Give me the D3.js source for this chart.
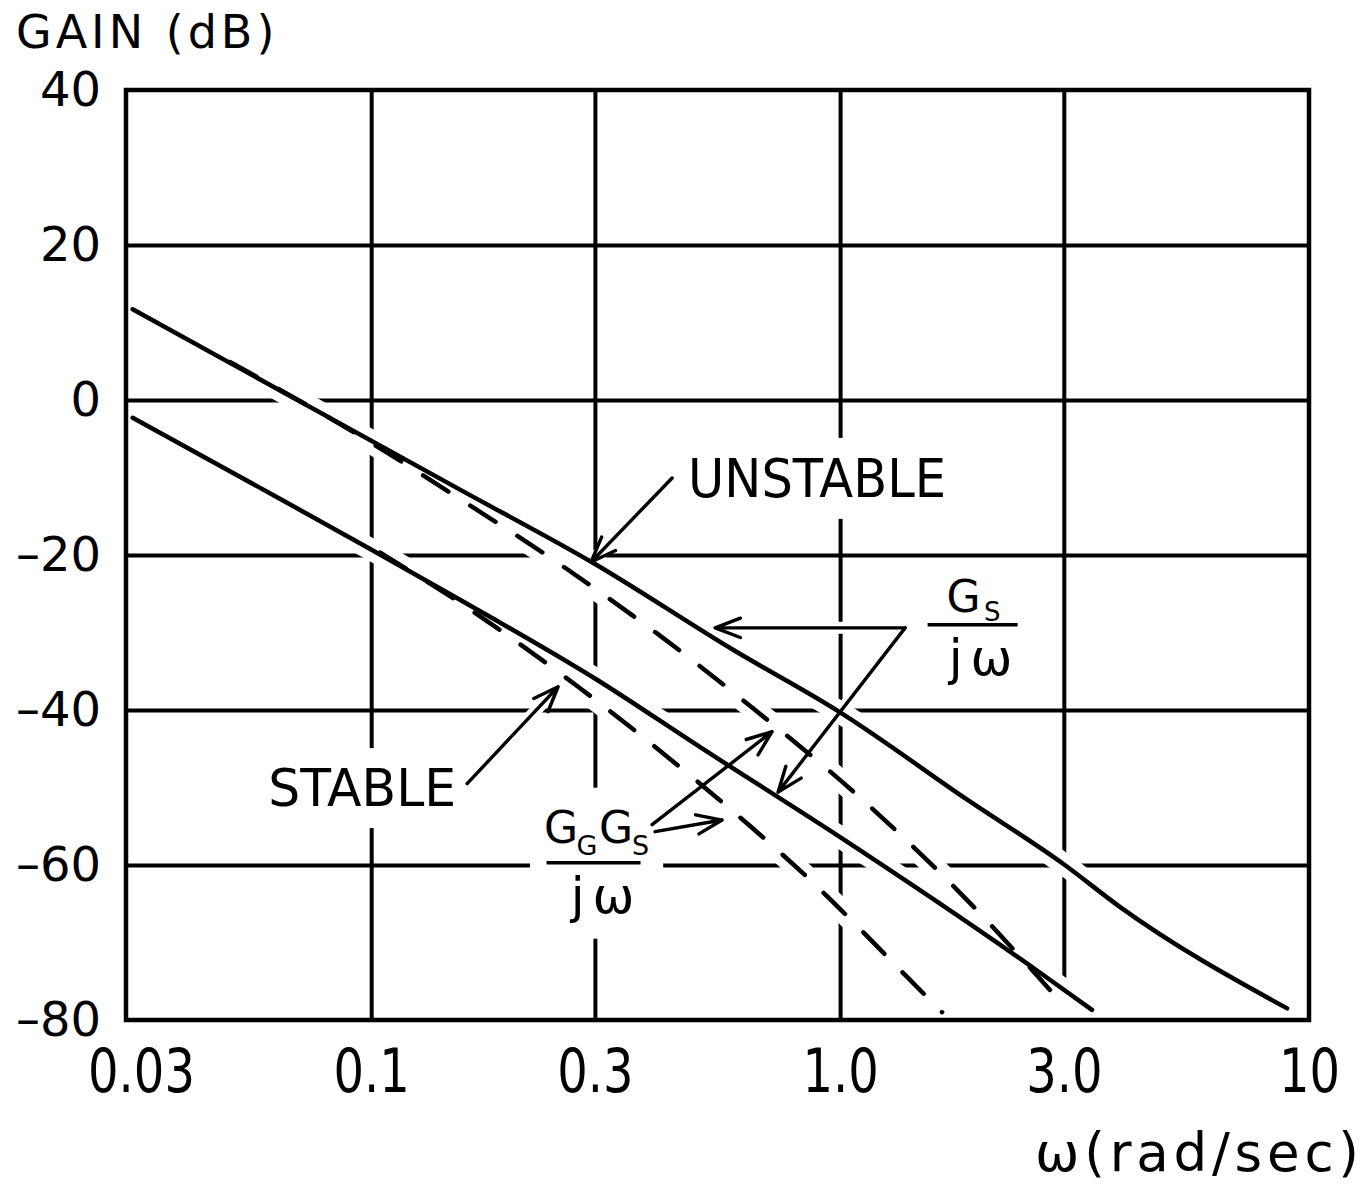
<!DOCTYPE html>
<html>
<head>
<meta charset="utf-8">
<script src="https://cdn.jsdelivr.net/npm/d3@7"></script>
<style>
  html, body { margin: 0; background: #fff; }
  svg { display: block; }
  text { font-family: "DejaVu Sans", sans-serif; fill: #000; }
</style>
</head>
<body>
<svg id="chart" width="1370" height="1187"></svg>
<script>
// ---- axis ticks --------------------------------------------------------
const freqTicks = [0.03, 0.1, 0.3, 1.0, 3.0, 10];
const freqTickLabels = ["0.03", "0.1", "0.3", "1.0", "3.0", "10"];
const freqGrid = [0.1, 0.3, 1.0, 3.0];
const gainTicks = [40, 20, 0, -20, -40, -60, -80];
const gainTickLabels = ["40", "20", "0", "–20", "–40", "–60", "–80"];
const gainGrid = [20, 0, -20, -40, -60];

// ---- gain curves: [omega (rad/sec), gain (dB)] ---------------------------
// solid: Gs / jw
const gsUnstable = [[0.031, 11.7], [0.155, -11.6], [0.297, -21.0], [0.59, -32.2],
  [1.0, -40.3], [1.87, -51.6], [3.0, -59.9], [3.95, -65.4], [8.98, -78.5]];
const gsStable = [[0.031, -2.3], [0.065, -13.0], [0.098, -19.0], [0.155, -25.8],
  [0.303, -36.1], [0.503, -44.8], [1.0, -56.4], [2.67, -73.9], [3.445, -78.7]];
// dashed: Gg Gs / jw
const ggGsUnstable = [[0.050, 4.9], [0.098, -5.2], [0.153, -12.6], [0.257, -21.5],
  [0.417, -30.6], [0.659, -40.0], [1.098, -51.2], [1.776, -63.2], [3.05, -78.6]];
const ggGsStable = [[0.1045, -19.7], [0.155, -26.2], [0.220, -32.6], [0.2735, -36.8],
  [0.357, -42.2], [0.456, -47.4], [0.563, -52.0], [0.702, -57.0], [0.876, -62.3],
  [1.092, -68.0], [1.356, -73.8], [1.65, -79.0]];

// ---- annotation anchors (data coordinates) -------------------------------
const wordLabels = [
  { text: "UNSTABLE", at: [0.474, -12.5] },
  { text: "STABLE",   at: [0.0603, -52.4] }
];
const gsLabelAt = [1.917, -29.0];     // centre of the fraction bar
const ggGsLabelAt = [0.298, -59.7];
const arrows = [
  { from: [0.4384, -10.06], to: [0.2944, -20.9] },
  { from: [0.1602, -49.5],  to: [0.2504, -37.0] },
  { from: [1.376, -29.4],   to: [0.5414, -29.4] },
  { from: [1.376, -29.4],   to: [0.7375, -50.6] },
  { from: [0.403, -55.7],   to: [0.5603, -54.2] },
  { from: [0.3973, -54.8],  to: [0.716, -42.8] }
];

// ---- layout ---------------------------------------------------------------
const W = 1370, H = 1187;
const margin = { left: 126, right: 61, top: 90, bottom: 167 };
const svg = d3.select("#chart");

const x = d3.scaleLog().domain([0.03, 10]).range([margin.left, W - margin.right]);
const y = d3.scaleLinear().domain([-80, 40]).range([H - margin.bottom, margin.top]);
const plotH = y(-80) - y(40);
const plotW = x(10) - x(0.03);

const gGrid = svg.append("g");
const gKnock = svg.append("g");
const gHalo = svg.append("g");
const gArrows = svg.append("g");
const gCurves = svg.append("g");
const gFrame = svg.append("g");
const gText = svg.append("g");

// grid lines
gGrid.append("g")
  .attr("transform", `translate(0,${y(-80)})`)
  .call(d3.axisBottom(x).tickValues(freqGrid).tickSize(-plotH).tickFormat(""))
  .call(g => g.select(".domain").remove())
  .selectAll("line").attr("stroke", "#000").attr("stroke-width", 4);
gGrid.append("g")
  .attr("transform", `translate(${x(0.03)},0)`)
  .call(d3.axisLeft(y).tickValues(gainGrid).tickSize(-plotW).tickFormat(""))
  .call(g => g.select(".domain").remove())
  .selectAll("line").attr("stroke", "#000").attr("stroke-width", 4);

// curves, each on a white band that breaks the grid where it crosses
const line = d3.line().x(d => x(d[0])).y(d => y(d[1])).curve(d3.curveMonotoneX);
const curves = [
  { data: gsUnstable, dash: null },
  { data: gsStable, dash: null },
  { data: ggGsUnstable, dash: "30,26" },
  { data: ggGsStable, dash: "30,26" }
];
gHalo.selectAll("path.halo").data(curves).join("path")
  .attr("class", "halo")
  .attr("d", d => line(d.data))
  .attr("fill", "none").attr("stroke", "#fff").attr("stroke-width", 22)
  .attr("stroke-linecap", "round");
gCurves.selectAll("path").data(curves).join("path")
  .attr("d", d => line(d.data))
  .attr("fill", "none").attr("stroke", "#000").attr("stroke-width", 4.5)
  .attr("stroke-linejoin", "round").attr("stroke-linecap", "round")
  .attr("stroke-dasharray", d => d.dash);

// arrows with open heads
function arrowPath(a) {
  const x0 = x(a.from[0]), y0 = y(a.from[1]);
  const x1 = x(a.to[0]), y1 = y(a.to[1]);
  const ang = Math.atan2(y0 - y1, x0 - x1);
  const L = 27, spread = 21 * Math.PI / 180;
  const b1 = [x1 + L * Math.cos(ang - spread), y1 + L * Math.sin(ang - spread)];
  const b2 = [x1 + L * Math.cos(ang + spread), y1 + L * Math.sin(ang + spread)];
  return `M${x0},${y0}L${x1},${y1}M${b1[0]},${b1[1]}L${x1},${y1}L${b2[0]},${b2[1]}`;
}
gHalo.selectAll("path.ahalo").data(arrows).join("path")
  .attr("class", "ahalo")
  .attr("d", a => `M${x(a.from[0])},${y(a.from[1])}L${x(a.to[0])},${y(a.to[1])}`)
  .attr("stroke", "#fff").attr("stroke-width", 12).attr("fill", "none");
gArrows.selectAll("path").data(arrows).join("path")
  .attr("d", arrowPath)
  .attr("fill", "none").attr("stroke", "#000").attr("stroke-width", 3.4)
  .attr("stroke-linecap", "round").attr("stroke-linejoin", "round");

// frame
gFrame.append("rect")
  .attr("x", x(0.03)).attr("y", y(40)).attr("width", plotW).attr("height", plotH)
  .attr("fill", "none").attr("stroke", "#000").attr("stroke-width", 4.5);

// tick labels
const xAxis = gText.append("g")
  .attr("transform", `translate(0,${y(-80)})`)
  .call(d3.axisBottom(x).tickValues(freqTicks).tickFormat((d, i) => freqTickLabels[i])
    .tickSize(0).tickPadding(29));
xAxis.select(".domain").remove();
xAxis.selectAll("text")
  .attr("font-family", "DejaVu Sans, sans-serif").attr("font-size", 60)
  .attr("fill", "#000").attr("transform", "scale(0.8,1)")
  .filter((d, i) => i === 0).attr("x", 15 / 0.8);

const yAxis = gText.append("g")
  .attr("transform", `translate(${x(0.03)},0)`)
  .call(d3.axisLeft(y).tickValues(gainTicks).tickFormat((d, i) => gainTickLabels[i])
    .tickSize(0).tickPadding(25));
yAxis.select(".domain").remove();
yAxis.selectAll("text")
  .attr("font-family", "DejaVu Sans, sans-serif").attr("font-size", 48).attr("fill", "#000");

// axis titles
gText.append("text").attr("x", 16).attr("y", 48)
  .attr("font-size", 46).attr("letter-spacing", 4).text("GAIN (dB)");
gText.append("text").attr("x", 1035).attr("y", 1171)
  .attr("font-size", 53).attr("textLength", 324).attr("lengthAdjust", "spacing")
  .text("ω(rad/sec)");

// knock a white box out of the grid behind a label group
function knockout(node, pad) {
  const b = node.getBBox();
  gKnock.append("rect")
    .attr("x", b.x - pad).attr("y", b.y - pad)
    .attr("width", b.width + 2 * pad).attr("height", b.height + 2 * pad)
    .attr("fill", "#fff");
}

// word labels
const wordSizes = { UNSTABLE: [53, 258], STABLE: [52, 188] };
wordLabels.forEach(l => {
  const [fs, len] = wordSizes[l.text];
  const t = gText.append("text")
    .attr("x", x(l.at[0])).attr("y", y(l.at[1]))
    .attr("font-size", fs)
    .attr("textLength", len).attr("lengthAdjust", "spacingAndGlyphs")
    .text(l.text);
  knockout(t.node(), 10);
});

// fraction labels
function fraction(at, halfBar, parts, denomDx, pad) {
  const cx = x(at[0]), by = y(at[1]);
  const g = gText.append("g");
  g.append("line").attr("x1", cx - halfBar).attr("x2", cx + halfBar)
    .attr("y1", by).attr("y2", by)
    .attr("stroke", "#000").attr("stroke-width", 3.5);
  parts.forEach(p => g.append("text")
    .attr("x", cx + p.dx).attr("y", by + p.dy)
    .attr("font-size", p.size).text(p.t));
  g.append("text").attr("x", cx + denomDx).attr("y", by + 50)
    .attr("text-anchor", "middle").attr("font-size", 50)
    .attr("letter-spacing", 8).text("jω");
  knockout(g.node(), pad);
}
fraction(gsLabelAt, 45, [
  { t: "G", dx: -26, dy: -13, size: 44 },
  { t: "S", dx: 11.5, dy: -4, size: 26 }
], 12, 6);
fraction(ggGsLabelAt, 47, [
  { t: "G", dx: -49.5, dy: -20, size: 44 },
  { t: "G", dx: -17, dy: -8, size: 27 },
  { t: "G", dx: 5.5, dy: -20, size: 44 },
  { t: "S", dx: 38.5, dy: -8, size: 27 }
], 13, 14);
</script>
</body>
</html>
